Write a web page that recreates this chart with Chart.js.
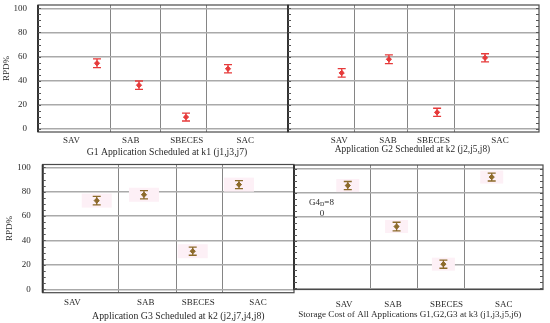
<!DOCTYPE html>
<html>
<head>
<meta charset="utf-8">
<script src="https://cdn.jsdelivr.net/npm/chart.js@4.4.1/dist/chart.umd.min.js"></script>
<style>
html, body { margin: 0; padding: 0; background: #fff; }
#wrap { position: relative; width: 550px; height: 323px; }
canvas { position: absolute; left: 0; top: 0; }
</style>
</head>
<body>
<div id="wrap">
  <canvas id="c1" width="550" height="323"></canvas>
  <canvas id="c2" width="550" height="323"></canvas>
  <canvas id="c3" width="550" height="323"></canvas>
  <canvas id="c4" width="550" height="323"></canvas>
</div>
<script>
const categories = ['SAV', 'SAB', 'SBECES', 'SAC'];
const yTicks = [0, 20, 40, 60, 80, 100];
const yMinorStep = 5;

// values (RPD%), with half error bar
const g1Values = [54.5, 36.3, 9.9, 49.9];
const g1Errors = [3.7, 3.5, 3.3, 3.4];
const g2Values = [46.5, 57.8, 13.8, 59.0];
const g2Errors = [3.5, 3.6, 3.4, 3.4];
const g3Values = [72.7, 77.5, 31.2, 85.8];
const g3Errors = [3.5, 3.4, 3.3, 3.3];
const g4Values = [86.0, 51.7, 20.2, 93.1];
const g4Errors = [3.4, 3.6, 3.4, 3.3];

// horizontal placement on a 0-100 axis
const g1PointX = [23.6, 40.4, 59.2, 76.0];
const g1LabelX = [13.4, 37.1, 59.5, 82.9];
const g1GridX = [28.8, 49.1, 67.5];
const g2PointX = [21.4, 40.2, 59.4, 78.5];
const g2LabelX = [20.4, 39.8, 58.0, 84.5];
const g2GridX = [26.3, 47.8, 66.5];
const g3PointX = [21.5, 40.3, 59.7, 78.1];
const g3LabelX = [11.8, 41.0, 61.9, 85.7];
const g3GridX = [30.0, 53.4, 71.7];
const g4PointX = [21.6, 41.2, 60.0, 79.4];
const g4LabelX = [20.1, 39.8, 61.2, 84.2];
const g4GridX = [30.9, 49.4, 68.3];

const g1Title = 'G1 Application Scheduled at k1 (j1,j3,j7)';
const g2Title = 'Application G2 Scheduled at k2 (j2,j5,j8)';
const g3Title = 'Application G3 Scheduled at k2 (j2,j7,j4,j8)';
const g4Title = 'Storage Cost of All Applications G1,G2,G3 at k3 (j1,j3,j5,j6)';

const font = { family: 'Liberation Serif', size: 9 };
const textColor = '#2a2a2a';

const panels = [
  { id: 'c1', area: [38, 5, 288, 132], yMin: -2.5, yMax: 102.8, values: g1Values, errors: g1Errors,
    xs: g1PointX, labelX: g1LabelX, gridX: g1GridX, title: g1Title, color: '#e63a3a',
    showY: true, yBoxLeft: 1, labelGap: 11, labelPad: 3, titleY: 152, titleShift: 4, titleSize: 9.7,
    band: null, rightTicks: false },
  { id: 'c2', area: [288, 5, 539, 132], yMin: -2.5, yMax: 102.8, values: g2Values, errors: g2Errors,
    xs: g2PointX, labelX: g2LabelX, gridX: g2GridX, title: g2Title, color: '#e63a3a',
    showY: false, labelPad: 3, titleY: 150, titleShift: -1, titleSize: 9.4,
    band: null, rightTicks: true },
  { id: 'c3', area: [42.7, 164.5, 294, 292.7], yMin: -2.8, yMax: 102.3, values: g3Values, errors: g3Errors,
    xs: g3PointX, labelX: g3LabelX, gridX: g3GridX, title: g3Title, color: '#8c6a2a',
    showY: true, yBoxLeft: 4.6, labelGap: 12, labelPad: 5, titleY: 316, titleShift: 10, titleSize: 9.8,
    band: [30, 14], rightTicks: false },
  { id: 'c4', area: [294, 165, 543, 289.5], yMin: -1, yMax: 103.2, values: g4Values, errors: g4Errors,
    xs: g4PointX, labelX: g4LabelX, gridX: g4GridX, title: g4Title, color: '#8c6a2a',
    showY: false, labelPad: 9.5, titleY: 315, titleShift: -8.7, titleSize: 9.1,
    band: [23, 13], rightTicks: true, note: true }
];

function panelPlugin(p) {
  return {
    id: 'panelDeco',
    beforeDatasetsDraw(chart) {
      const { ctx, scales: { x, y } } = chart;
      ctx.save();
      p.xs.forEach((xv, i) => {
        const px = x.getPixelForValue(xv);
        const py = y.getPixelForValue(p.values[i]);
        if (p.band) {
          ctx.fillStyle = '#fdf0f6';
          ctx.fillRect(px - p.band[0] / 2, py - p.band[1] / 2, p.band[0], p.band[1]);
        }
        const top = y.getPixelForValue(p.values[i] + p.errors[i]);
        const bot = y.getPixelForValue(p.values[i] - p.errors[i]);
        ctx.strokeStyle = p.color;
        ctx.lineWidth = 1.3;
        ctx.beginPath();
        ctx.moveTo(px, top); ctx.lineTo(px, bot);
        ctx.moveTo(px - 4, top); ctx.lineTo(px + 4, top);
        ctx.moveTo(px - 4, bot); ctx.lineTo(px + 4, bot);
        ctx.stroke();
      });
      ctx.restore();
    },
    afterDraw(chart) {
      const { ctx, chartArea: a, scales: { y } } = chart;
      ctx.save();
      ctx.strokeStyle = '#4a4a4a';
      ctx.lineWidth = 1.2;
      ctx.strokeRect(a.left, a.top, a.right - a.left, a.bottom - a.top);
      ctx.strokeStyle = '#333';
      ctx.lineWidth = 2;
      ctx.beginPath();
      ctx.moveTo(a.left, a.top); ctx.lineTo(a.left, a.bottom);
      ctx.stroke();
      ctx.lineWidth = 1;
      ctx.strokeStyle = '#555';
      ctx.beginPath();
      for (let v = 0; v <= 100; v += yMinorStep) {
        const py = Math.round(y.getPixelForValue(v)) + 0.5;
        ctx.moveTo(a.left, py); ctx.lineTo(a.left + 3, py);
        if (p.rightTicks) { ctx.moveTo(a.right, py); ctx.lineTo(a.right - 3, py); }
      }
      ctx.stroke();

      // axis caption under the category labels
      ctx.fillStyle = textColor;
      ctx.textAlign = 'center';
      ctx.textBaseline = 'middle';
      ctx.font = p.titleSize + 'px "Liberation Serif"';
      ctx.fillText(p.title, (a.left + a.right) / 2 + p.titleShift, p.titleY);

      if (p.note) {
        ctx.textAlign = 'left';
        ctx.font = '9px "Liberation Serif"';
        const nx = a.left + 15, ny = y.getPixelForValue(72);
        ctx.fillText('G4', nx, ny);
        let w = ctx.measureText('G4').width;
        ctx.font = '6px "Liberation Serif"';
        ctx.fillText('D', nx + w, ny + 2.5);
        w += ctx.measureText('D').width;
        ctx.font = '9px "Liberation Serif"';
        ctx.fillText('=8', nx + w, ny);
        ctx.textAlign = 'center';
        ctx.fillText('0', nx + 13, ny + 11.5);
      }
      ctx.restore();
    }
  };
}

panels.forEach(p => {
  const [L, T, R, B] = p.area;
  new Chart(document.getElementById(p.id), {
    type: 'scatter',
    data: {
      datasets: [{
        data: p.xs.map((xv, i) => ({ x: xv, y: p.values[i] })),
        pointStyle: 'rectRot',
        pointRadius: 2.6,
        backgroundColor: p.color,
        borderColor: p.color,
        borderWidth: 1
      }]
    },
    options: {
      responsive: false,
      animation: false,
      devicePixelRatio: 1,
      layout: { padding: { left: p.showY ? p.yBoxLeft : L, top: T, right: 550 - R, bottom: 323 - B - 20 } },
      plugins: { legend: { display: false }, tooltip: { enabled: false } },
      scales: {
        x: {
          type: 'linear', position: 'bottom', min: 0, max: 100,
          afterBuildTicks: s => { s.ticks = p.labelX.map(v => ({ value: v })); },
          afterFit: s => { s.height = 20; s.paddingLeft = 0; s.paddingRight = 0; },
          ticks: { callback: (v, i) => categories[i], font, color: textColor, padding: p.labelPad, maxRotation: 0, autoSkip: false },
          grid: { display: false, drawTicks: false },
          border: { display: false }
        },
        xg: {
          type: 'linear', position: 'top', min: 0, max: 100,
          afterBuildTicks: s => { s.ticks = p.gridX.map(v => ({ value: v })); },
          afterFit: s => { s.height = 0; s.paddingLeft = 0; s.paddingRight = 0; },
          ticks: { display: false },
          grid: { color: '#858585', lineWidth: 1, drawTicks: false },
          border: { display: false }
        },
        y: {
          min: p.yMin, max: p.yMax,
          afterBuildTicks: s => { s.ticks = yTicks.map(v => ({ value: v })); },
          afterFit: s => { s.width = p.showY ? L - p.yBoxLeft : 0; s.paddingTop = 0; s.paddingBottom = 0; },
          ticks: { display: p.showY, padding: p.labelGap || 0, font, color: textColor },
          grid: { color: '#aaaaaa', lineWidth: 1.5, drawTicks: false },
          border: { display: false },
          title: { display: p.showY, text: 'RPD%', font, color: textColor, padding: 0 }
        }
      }
    },
    plugins: [panelPlugin(p)]
  });
});
</script>
</body>
</html>
